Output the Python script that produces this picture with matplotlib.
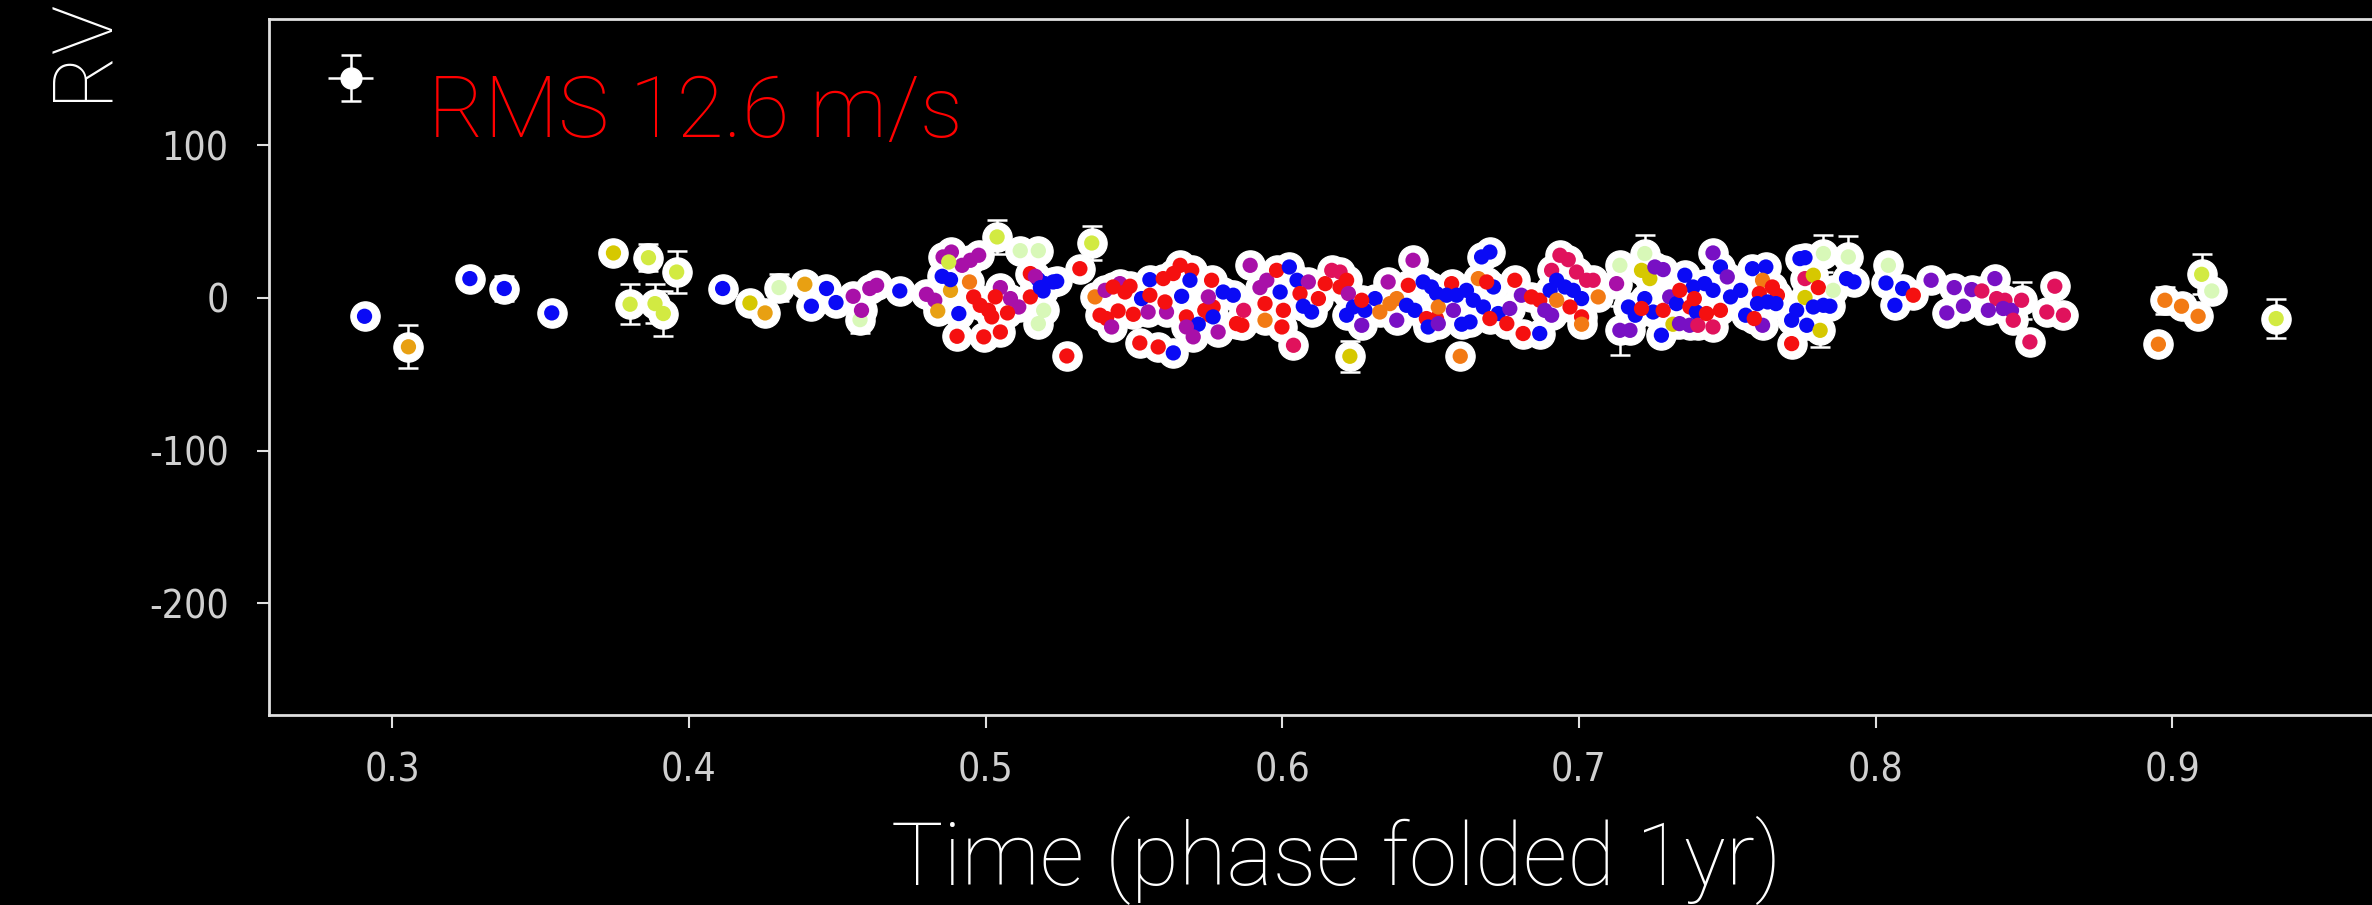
import matplotlib
matplotlib.use('Agg')
from matplotlib import pyplot as plt

plt.rcParams['axes.unicode_minus'] = False

# phase-folded radial velocities (m/s), error bars and colour code per point
phase = [0.2907, 0.3055, 0.3262, 0.3378, 0.3538, 0.3746, 0.3864, 0.3959, 0.3802, 0.3886,
         0.3914, 0.4114, 0.4206, 0.4257, 0.4304, 0.4391, 0.4464, 0.4413, 0.4496, 0.4554,
         0.4577, 0.4582, 0.4610, 0.4633, 0.4711, 0.4801, 0.4829, 0.4857, 0.4885, 0.4882,
         0.4921, 0.4949, 0.4977, 0.4876, 0.4854, 0.4882, 0.4946, 0.4839, 0.4910, 0.4960,
         0.4982, 0.5010, 0.5021, 0.4904, 0.4994, 0.5050, 0.5039, 0.5117, 0.5178, 0.5358,
         0.5318, 0.5178, 0.5200, 0.5228, 0.5194, 0.5050, 0.5084, 0.5112, 0.5033, 0.5074,
         0.5151, 0.5151, 0.5168, 0.5185, 0.5240, 0.5196, 0.5178, 0.5274, 0.5369, 0.5403,
         0.5453, 0.5430, 0.5487, 0.5470, 0.5386, 0.5408, 0.5425, 0.5447, 0.5498, 0.5520,
         0.5582, 0.5633, 0.5554, 0.5526, 0.5554, 0.5548, 0.5610, 0.5605, 0.5599, 0.5633,
         0.5656, 0.5695, 0.5661, 0.5689, 0.5762, 0.5677, 0.5739, 0.5767, 0.5756, 0.5717,
         0.5767, 0.5677, 0.5700, 0.5784, 0.5751, 0.5801, 0.5835, 0.5846, 0.5892, 0.5870,
         0.5864, 0.5925, 0.5948, 0.5942, 0.5942, 0.5981, 0.6024, 0.6050, 0.5993, 0.6088,
         0.6004, 0.5999, 0.6038, 0.6060, 0.6122, 0.6145, 0.6071, 0.6099, 0.6167, 0.6195,
         0.6217, 0.6195, 0.6223, 0.6240, 0.6217, 0.6279, 0.6313, 0.6268, 0.6268, 0.6228,
         0.6329, 0.6363, 0.6386, 0.6357, 0.6441, 0.6386, 0.6419, 0.6447, 0.6425, 0.6475,
         0.6503, 0.6520, 0.6486, 0.6520, 0.6492, 0.6526, 0.6526, 0.6571, 0.6554, 0.6588,
         0.6621, 0.6644, 0.6678, 0.6577, 0.6605, 0.6633, 0.6600, 0.6661, 0.6672, 0.6700,
         0.6712, 0.6728, 0.6689, 0.6700, 0.6757, 0.6767, 0.6784, 0.6806, 0.6936, 0.6964,
         0.6908, 0.6992, 0.7026, 0.7048, 0.6840, 0.6868, 0.6903, 0.6925, 0.6953, 0.6981,
         0.7009, 0.6925, 0.7065, 0.6885, 0.6908, 0.6970, 0.7009, 0.7009, 0.6812, 0.6868,
         0.7127, 0.7138, 0.7222, 0.7211, 0.7239, 0.7256, 0.7284, 0.7167, 0.7190, 0.7222,
         0.7250, 0.7138, 0.7172, 0.7211, 0.7284, 0.7278, 0.7306, 0.7329, 0.7357, 0.7385,
         0.7340, 0.7374, 0.7317, 0.7339, 0.7373, 0.7396, 0.7424, 0.7452, 0.7452, 0.7477,
         0.7401, 0.7452, 0.7430, 0.7477, 0.7389, 0.7500, 0.7511, 0.7545, 0.7562, 0.7585,
         0.7630, 0.7619, 0.7608, 0.7652, 0.7669, 0.7602, 0.7636, 0.7664, 0.7619, 0.7591,
         0.7717, 0.7734, 0.7717, 0.7745, 0.7762, 0.7824, 0.7908, 0.7762, 0.7790, 0.7807,
         0.7857, 0.7762, 0.7790, 0.7824, 0.7846, 0.7768, 0.7813, 0.7902, 0.7927, 0.8043,
         0.8035, 0.8091, 0.8127, 0.8065, 0.8187, 0.8265, 0.8240, 0.8296, 0.8324, 0.8358,
         0.8402, 0.8408, 0.8436, 0.8380, 0.8430, 0.8458, 0.8464, 0.8492, 0.8520, 0.8604,
         0.8577, 0.8633, 0.8975, 0.9031, 0.9087, 0.8953, 0.9099, 0.9133, 0.9350]

rv = [-12.0, -32.0, 12.7, 6.2, -9.8, 29.5, 26.4, 17.0, -4.1, -3.7,
      -10.2, 6.2, -3.3, -9.8, 6.8, 9.0, 6.2, -5.4, -3.0, 1.1,
      -14.2, -8.1, 6.2, 8.3, 4.6, 2.4, -1.5, 26.9, 30.1, 5.0,
      21.4, 24.7, 28.0, 23.6, 14.2, 12.0, 10.5, -8.5, -10.2, 0.7,
      -4.8, -8.1, -12.4, -25.1, -25.5, -22.3, 40.0, 31.0, 31.0, 36.0,
      19.2, 12.0, 9.4, 10.5, 4.6, 6.8, -0.4, -5.9, 0.7, -9.8,
      0.7, 16.0, 14.2, 6.8, 10.9, -8.1, -16.8, -38.0, 0.7, 5.0,
      9.4, 7.2, 7.7, 3.9, -11.3, -13.5, -19.0, -8.5, -10.7, -29.5,
      -32.1, -36.0, 12.0, -0.4, 1.8, -9.2, -9.2, -2.6, 12.7, 16.0,
      21.4, 18.1, 1.1, 11.6, 11.6, -12.4, -8.1, -5.9, -11.3, -17.2,
      -12.4, -19.0, -25.5, -22.3, 0.7, 3.9, 1.8, -16.8, 21.4, -8.1,
      -17.9, 6.8, 11.6, -3.7, -14.6, 18.1, 20.3, 11.6, 3.9, 10.5,
      -8.1, -19.0, -31.0, 2.9, -0.4, 9.4, -5.4, -9.2, 18.1, 17.0,
      11.6, 7.2, 2.9, -5.9, -11.3, -8.1, -0.4, -1.5, -17.9, -38.2,
      -9.2, -3.7, -0.4, 10.5, 24.7, -14.6, -4.8, -8.1, 8.3, 10.5,
      7.2, 2.9, -13.5, -13.5, -19.0, -16.8, -5.9, 9.4, 1.8, 1.8,
      5.0, -1.5, -5.9, -8.1, -17.2, -15.7, -38.2, 12.7, 26.9, 30.1,
      7.2, -10.2, 10.5, -13.5, -16.8, -6.9, 11.6, 1.8, 28.0, 25.1,
      18.1, 17.0, 11.6, 11.6, 0.7, -1.5, 5.0, 11.6, 7.2, 5.0,
      -0.4, -1.5, 0.7, -8.1, -11.3, -5.9, -12.4, -17.2, -23.3, -23.3,
      9.4, 21.4, 29.1, 18.1, 12.7, 20.3, 18.6, -5.9, -11.3, -0.4,
      -9.2, -21.2, -21.2, -6.9, -8.1, -24.4, 0.7, -3.7, 14.9, 7.2,
      5.0, -5.9, -17.2, -16.8, -17.9, -9.2, 9.4, 5.0, 29.5, 20.3,
      -17.9, -19.0, -10.2, -8.1, -0.4, 13.8, 0.7, 5.0, -11.3, 19.2,
      20.3, 11.6, 2.9, 7.2, 1.8, -3.7, -2.6, -3.7, -17.9, -13.5,
      -14.6, -8.1, -29.9, 25.8, 26.4, 29.1, 26.9, 12.7, 14.9, 6.8,
      5.0, 0.3, -5.9, -4.8, -5.4, -17.9, -21.2, 12.7, 10.5, 21.4,
      9.8, 6.2, 1.8, -4.8, 11.6, 6.8, -9.8, -5.4, 5.5, 4.6,
      12.7, -0.4, -1.5, -8.1, -6.9, -8.1, -14.6, -1.5, -28.8, 7.7,
      -9.2, -11.3, -1.5, -5.4, -12.0, -30.3, 15.5, 4.6, -13.5]

rv_err = [5, 14, 5, 8, 5, 5, 9, 14, 13, 13,
          15, 5, 5, 5, 9, 5, 5, 5, 5, 5,
          9, 5, 5, 5, 5, 5, 5, 5, 5, 5,
          5, 5, 5, 10, 5, 5, 5, 5, 5, 5,
          5, 5, 5, 5, 5, 5, 11, 5, 5, 11,
          5, 5, 5, 5, 5, 5, 5, 5, 5, 5,
          5, 5, 5, 5, 5, 5, 5, 5, 5, 5,
          5, 5, 5, 5, 5, 5, 5, 5, 5, 5,
          5, 5, 5, 5, 5, 5, 5, 5, 5, 5,
          5, 5, 5, 5, 5, 5, 5, 5, 5, 5,
          5, 5, 5, 5, 5, 5, 5, 5, 5, 5,
          5, 5, 5, 5, 5, 5, 5, 5, 5, 5,
          5, 5, 5, 5, 5, 5, 5, 5, 5, 5,
          5, 5, 5, 5, 5, 5, 5, 5, 5, 10,
          5, 5, 5, 5, 5, 5, 5, 5, 5, 5,
          5, 5, 5, 5, 5, 5, 5, 5, 5, 5,
          5, 5, 5, 5, 5, 5, 5, 5, 5, 5,
          5, 5, 5, 5, 5, 5, 5, 5, 5, 5,
          5, 5, 5, 5, 5, 5, 5, 5, 5, 5,
          5, 5, 5, 5, 5, 5, 5, 5, 5, 5,
          5, 5, 12, 5, 5, 5, 5, 5, 5, 5,
          5, 16, 5, 5, 5, 5, 5, 5, 5, 5,
          5, 5, 5, 5, 5, 5, 5, 5, 5, 5,
          5, 5, 5, 5, 5, 5, 5, 5, 5, 5,
          5, 5, 5, 5, 5, 5, 5, 5, 5, 5,
          5, 5, 5, 5, 5, 12, 14, 5, 5, 5,
          5, 5, 5, 5, 5, 5, 11, 5, 5, 5,
          5, 5, 5, 5, 5, 5, 5, 5, 5, 5,
          5, 5, 5, 5, 5, 5, 5, 12, 5, 5,
          5, 5, 9, 5, 5, 5, 13, 5, 13]

codes = ('b g b b b y l l l l '
         'l b y g p g b b b m '
         'p m m m b m m m m g '
         'm m m l b b o g b r '
         'r r r r r r l p p l '
         'r b b b b m m m r r '
         'r r m b b p p r o m '
         'm r r r r r m r r r '
         'r b b b r m m r r r '
         'r r b b r r r r r b '
         'b m m m m b b r m c '
         'r m m r o r b b b m '
         'r r c r r r b b c c '
         'r r m b b b b r v y '
         'o o o m m v b b r b '
         'b b r r b v o r b b '
         'b b b v b b o o b b '
         'b b r r r v r v c c '
         'c c c c r r b b b b '
         'b o o v v r r o r b '
         'm p p y y v v b b b '
         'b v v r r b v b b b '
         'r r y v v b b b v b '
         'c c r r r v b b b b '
         'b o r r r b b b v r '
         'b b r b b p p c y r '
         'p y b b b b y b b p '
         'b b r b v v v v v c '
         'v c c v v v c c c c '
         'c c o o o o l p l').split()

palette = {'b': '#0a0af5', 'r': '#f51010', 'c': '#e0125c', 'm': '#a810a8',
           'v': '#7810c4', 'o': '#f27a14', 'g': '#e8a012', 'y': '#d6c800',
           'l': '#d2ea42', 'p': '#d8f8b8'}
colors = [palette[k] for k in codes]

# typical uncertainty shown in the upper-left corner
ref_phase, ref_rv, ref_xerr, ref_yerr = 0.286, 144.0, 0.0075, 15.0

fig = plt.figure(figsize=(23.72, 9.05), dpi=100, facecolor='black')
ax = fig.add_axes([269 / 2372, 1 - 715 / 905, 2200 / 2372, 695.5 / 905])
ax.set_facecolor('black')

# white error bars and halos underneath, coloured dots on top
ax.errorbar(phase, rv, yerr=rv_err, fmt='none', ecolor='white',
            elinewidth=1.8, capsize=7, capthick=1.8, zorder=2)
ax.plot(phase, rv, 'o', ms=21, mfc='white', mec='white', ls='none', zorder=3)
ax.scatter(phase, rv, s=11 ** 2, c=colors, edgecolors='none', zorder=4)

ax.errorbar([ref_phase], [ref_rv], yerr=[ref_yerr], fmt='o', ms=15,
            mfc='white', mec='white', ecolor='white', elinewidth=1.8,
            capsize=7, capthick=1.8, zorder=5)
ax.errorbar([ref_phase], [ref_rv], xerr=[ref_xerr], fmt='none',
            ecolor='white', elinewidth=1.8, capsize=0, zorder=5)

ax.set_xlim(0.2585, 1.0)
ax.set_ylim(-273.3, 182.5)
ax.set_xticks([0.3, 0.4, 0.5, 0.6, 0.7, 0.8, 0.9])
ax.set_yticks([-200, -100, 0, 100])

for side in ['top', 'left', 'bottom']:
    ax.spines[side].set_color('#e0e0e0')
    ax.spines[side].set_linewidth(2)
ax.spines['right'].set_visible(False)

ax.tick_params(axis='both', direction='out', length=9, width=1.5,
               color='#e0e0e0', labelcolor='#d0d0d0', labelsize=28)
ax.tick_params(axis='y', pad=20)
ax.tick_params(axis='x', pad=17)
for lab in ax.get_xticklabels() + ax.get_yticklabels():
    lab.set_fontfamily('DejaVu Sans')
    lab.set_fontstretch('condensed')

big = dict(family='Roboto', weight='light', size=63)
fig.text(0.5633, 1 - 885 / 905, 'Time (phase folded 1yr)', color='white',
         ha='center', va='baseline', **big)
fig.text(428 / 2372, 1 - 137 / 905, 'RMS 12.6 m/s', color='#ff0000',
         ha='left', va='baseline', size=62, family='Roboto', weight='light')
fig.text(106 / 2372, 1 - 101 / 905, 'RV', color='white', rotation=90,
         rotation_mode='anchor', ha='left', va='baseline',
         size=60, family='Roboto', weight='light')

fig.savefig('out.png', dpi=100, facecolor='black')
